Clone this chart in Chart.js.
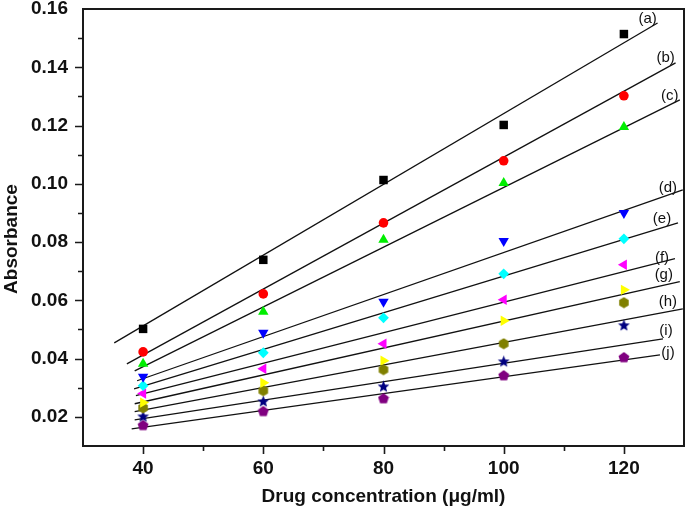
<!DOCTYPE html>
<html>
<head>
<meta charset="utf-8">
<script src="https://cdn.jsdelivr.net/npm/chart.js@4"></script>
<style>
  html, body { margin: 0; padding: 0; background: #fff; overflow: hidden; }
  canvas { display: block; }
</style>
</head>
<body>
<canvas id="chart" width="685" height="516"></canvas>
<script>
// concentrations (µg/ml) on the x axis
const concentrations = [40, 60, 80, 100, 120];
const seriesNames = ["(a)", "(b)", "(c)", "(d)", "(e)", "(f)", "(g)", "(h)", "(i)", "(j)"];

// measured absorbance, one array per curve
const absA = [0.0502, 0.0739, 0.1013, 0.1202, 0.1514];
const absB = [0.0423, 0.0622, 0.0866, 0.1079, 0.1302];
const absC = [0.0382, 0.0561, 0.0808, 0.1003, 0.1195];
const absD = [0.0338, 0.0489, 0.0595, 0.0804, 0.0900];
const absE = [0.0307, 0.0420, 0.0540, 0.0691, 0.0811];
const absF = [0.0280, 0.0365, 0.0451, 0.0602, 0.0722];
const absG = [0.0249, 0.0317, 0.0393, 0.0530, 0.0636];
const absH = [0.0231, 0.0290, 0.0362, 0.0451, 0.0592];
const absI = [0.0200, 0.0252, 0.0303, 0.0389, 0.0513];
const absJ = [0.0170, 0.0218, 0.0262, 0.0341, 0.0403];

// fitted lines, start and end points
const fitStartX = [35.2, 37.3, 38.6, 39.0, 38.5, 38.8, 38.6, 38.6, 38.6, 38.1];
const fitStartY = [0.0454, 0.0382, 0.0358, 0.0324, 0.0296, 0.0273, 0.0245, 0.0218, 0.0190, 0.0159];
const fitEndX = [125.6, 128.6, 129.3, 129.8, 129.0, 128.5, 129.3, 129.8, 126.5, 126.0];
const fitEndY = [0.1552, 0.1415, 0.1288, 0.0979, 0.0866, 0.0743, 0.0664, 0.0571, 0.0468, 0.0413];

// tick ranges
const xMin = 30, xMax = 130, xStep = 10;
const yMin = 0.01, yMax = 0.16, yStep = 0.01;

const allAbs = [absA, absB, absC, absD, absE, absF, absG, absH, absI, absJ];
const colors = ["#000000", "#ff0000", "#00ee00", "#0000ff", "#00ffff", "#ff00ff", "#ffff00", "#808000", "#000080", "#800080"];
// pixel offset of each curve label from the end of its line
const labelOffsets = [[-10, -4], [-10, -5], [-10, -4], [-15, -2], [-16, -4], [-13, -1], [-16, -7], [-15, -7], [3, -8], [8, -2]];

function polyCanvas(color, size, pts) {
  const c = document.createElement("canvas");
  c.width = size; c.height = size;
  const g = c.getContext("2d");
  g.fillStyle = color;
  g.beginPath();
  pts.forEach(([px, py], i) => i ? g.lineTo(px, py) : g.moveTo(px, py));
  g.closePath();
  g.fill();
  return c;
}
function regular(n, r, size, startAng) {
  const pts = [];
  for (let k = 0; k < n; k++) {
    const ang = startAng + k * 2 * Math.PI / n;
    pts.push([size / 2 + r * Math.cos(ang), size / 2 + r * Math.sin(ang)]);
  }
  return pts;
}
function starPts(r1, r2, size) {
  const pts = [];
  for (let k = 0; k < 10; k++) {
    const ang = -Math.PI / 2 + k * Math.PI / 5;
    const r = k % 2 ? r2 : r1;
    pts.push([size / 2 + r * Math.cos(ang), size / 2 + r * Math.sin(ang)]);
  }
  return pts;
}

const hexImg = polyCanvas(colors[7], 12, regular(6, 5.5, 12, -Math.PI / 2));
const starImg = polyCanvas(colors[8], 13, starPts(6.2, 2.7, 13));
const pentImg = polyCanvas(colors[9], 12, regular(5, 5.7, 12, -Math.PI / 2));

const markerStyles = [
  { pointStyle: "rect", radius: 6, rotation: 0 },
  { pointStyle: "circle", radius: 4.8, rotation: 0 },
  { pointStyle: "triangle", radius: 6, rotation: 0 },
  { pointStyle: "triangle", radius: 6, rotation: 180 },
  { pointStyle: "rectRot", radius: 5.4, rotation: 0 },
  { pointStyle: "triangle", radius: 6, rotation: 270 },
  { pointStyle: "triangle", radius: 6, rotation: 90 },
  { pointStyle: hexImg, radius: 6, rotation: 0 },
  { pointStyle: starImg, radius: 6, rotation: 0 },
  { pointStyle: pentImg, radius: 6, rotation: 0 }
];

const datasets = [];
allAbs.forEach((vals, i) => {
  datasets.push({
    label: seriesNames[i],
    data: concentrations.map((c, k) => ({ x: c, y: vals[k] })),
    backgroundColor: colors[i],
    borderColor: colors[i],
    borderWidth: 0,
    pointStyle: markerStyles[i].pointStyle,
    pointRadius: markerStyles[i].radius,
    rotation: markerStyles[i].rotation,
    showLine: false,
    order: 1
  });
});
allAbs.forEach((vals, i) => {
  datasets.push({
    label: "fit " + seriesNames[i],
    data: [{ x: fitStartX[i], y: fitStartY[i] }, { x: fitEndX[i], y: fitEndY[i] }],
    borderColor: "#111",
    borderWidth: 1.3,
    pointRadius: 0,
    showLine: true,
    order: 2
  });
});

const decor = {
  id: "decor",
  afterDraw(chart) {
    const { ctx, chartArea: a, scales: { x, y } } = chart;
    ctx.save();
    ctx.strokeStyle = "#1a1a1a";
    ctx.lineWidth = 2;
    ctx.strokeRect(a.left, a.top, a.right - a.left, a.bottom - a.top);

    ctx.lineWidth = 1.6;
    ctx.beginPath();
    x.ticks.forEach(t => {
      const v = Math.round(t.value);
      if (v <= xMin || v >= xMax) return;
      const px = Math.round(x.getPixelForValue(v)) + 0.5;
      const len = v % 20 === 0 ? 8 : 5;
      ctx.moveTo(px, a.bottom); ctx.lineTo(px, a.bottom + len);
    });
    y.ticks.forEach(t => {
      const n = Math.round(t.value * 100);
      if (n <= Math.round(yMin * 100) || n >= Math.round(yMax * 100)) return;
      const py = Math.round(y.getPixelForValue(t.value)) + 0.5;
      const len = n % 2 === 0 ? 8 : 5;
      ctx.moveTo(a.left, py); ctx.lineTo(a.left - len, py);
    });
    ctx.stroke();

    // curve labels
    ctx.fillStyle = "#111";
    ctx.font = "15px 'Liberation Sans', Arial, sans-serif";
    ctx.textAlign = "center";
    ctx.textBaseline = "middle";
    seriesNames.forEach((name, i) => {
      const px = x.getPixelForValue(fitEndX[i]) + labelOffsets[i][0];
      const py = y.getPixelForValue(fitEndY[i]) + labelOffsets[i][1];
      ctx.fillText(name, px, py);
    });

    // axis titles
    ctx.font = "bold 19px 'Liberation Sans', Arial, sans-serif";
    ctx.fillText("Drug concentration (\u03bcg/ml)", (a.left + a.right) / 2, 497);
    ctx.translate(12, 239);
    ctx.rotate(-Math.PI / 2);
    ctx.fillText("Absorbance", 0, 0);
    ctx.restore();
  }
};

const tickFont = { family: "'Liberation Sans', Arial, sans-serif", size: 19, weight: "bold" };
const noPad = s => { s.paddingTop = 0; s.paddingBottom = 0; s.paddingLeft = 0; s.paddingRight = 0; };

new Chart(document.getElementById("chart"), {
  type: "scatter",
  data: { datasets },
  options: {
    responsive: false,
    animation: false,
    layout: { autoPadding: false, padding: { left: 0, top: 9, right: 1, bottom: 0 } },
    plugins: { legend: { display: false }, tooltip: { enabled: false } },
    scales: {
      x: {
        type: "linear",
        min: xMin, max: xMax,
        grid: { display: false, drawTicks: false },
        border: { display: false },
        ticks: {
          stepSize: xStep,
          color: "#111",
          font: { ...tickFont, lineHeight: 2.4 },
          padding: 0,
          maxRotation: 0,
          autoSkip: false,
          callback: v => (Math.round(v) % 20 === 0 && v > xMin && v < xMax) ? String(Math.round(v)) : ""
        },
        afterFit: s => { s.height = 70; noPad(s); }
      },
      y: {
        type: "linear",
        min: yMin, max: yMax,
        grid: { display: false, drawTicks: false },
        border: { display: false },
        ticks: {
          stepSize: yStep,
          color: "#111",
          font: tickFont,
          padding: 15,
          autoSkip: false,
          callback: v => {
            const n = Math.round(v * 100);
            return (n % 2 === 0 && n > 1) ? (n / 100).toFixed(2) : "";
          }
        },
        afterFit: s => { s.width = 83; noPad(s); }
      }
    }
  },
  plugins: [decor]
});
</script>
</body>
</html>
